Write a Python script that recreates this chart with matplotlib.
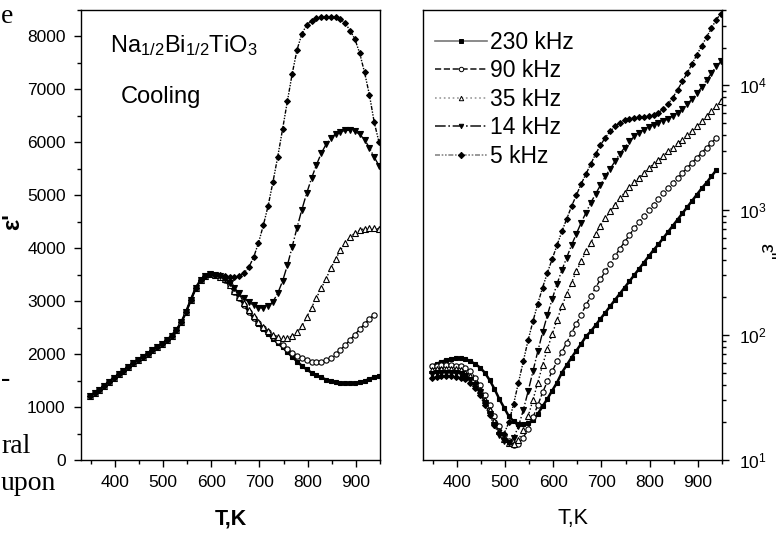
import matplotlib
matplotlib.use("Agg")
import matplotlib.pyplot as plt
import numpy as np
from matplotlib.lines import Line2D
from matplotlib.ticker import MultipleLocator

nan = np.nan

# temperature grid, K
T_K = [348, 358, 368, 378, 388, 398, 408, 418, 428, 438,
       448, 458, 468, 478, 488, 498, 508, 518, 528, 538,
       548, 558, 568, 578, 588, 598, 608, 618, 628, 638,
       648, 658, 668, 678, 688, 698, 708, 718, 728, 738,
       748, 758, 768, 778, 788, 798, 808, 818, 828, 838,
       848, 858, 868, 878, 888, 898, 908, 918, 928, 938, 948]

# eps' below ~610 K: all frequencies coincide
eps1_common = [1200, 1260, 1330, 1400, 1480, 1550, 1620, 1690, 1760, 1830,
               1890, 1950, 2010, 2070, 2130, 2200, 2260, 2350, 2460, 2600,
               2800, 3030, 3250, 3400, 3480, 3510, 3500]

# eps' above ~610 K, per frequency
eps1_230 = [3450, 3400, 3300, 3180, 3060, 2930, 2800, 2680, 2570, 2470,
            2380, 2290, 2210, 2130, 2040, 1950, 1860, 1780, 1710, 1650,
            1600, 1560, 1520, 1490, 1470, 1455, 1450, 1450, 1455, 1470,
            1495, 1530, 1565, 1590]
eps1_90 = [3450, 3400, 3300, 3180, 3060, 2930, 2800, 2690, 2590, 2500,
           2410, 2330, 2250, 2170, 2100, 2030, 1970, 1920, 1880, 1855,
           1845, 1855, 1880, 1930, 2000, 2080, 2170, 2270, 2370, 2470,
           2570, 2670, 2740, nan]
eps1_35 = [3460, 3410, 3310, 3200, 3080, 2960, 2840, 2720, 2610, 2510,
           2430, 2370, 2330, 2310, 2310, 2340, 2410, 2530, 2700, 2880,
           3060, 3240, 3420, 3620, 3800, 3960, 4100, 4210, 4290, 4340,
           4370, 4380, 4375, 4360]
eps1_14 = [3480, 3420, 3340, 3250, 3150, 3060, 2980, 2920, 2880, 2870,
           2900, 2990, 3150, 3380, 3680, 4030, 4390, 4730, 5040, 5320,
           5570, 5790, 5960, 6080, 6160, 6200, 6225, 6230, 6210, 6150,
           6050, 5900, 5720, 5560]
eps1_5 = [3490, 3470, 3455, 3450, 3470, 3530, 3640, 3830, 4100, 4430,
          4800, 5250, 5730, 6250, 6780, 7300, 7750, 8050, 8220, 8300,
          8340, 8360, 8370, 8375, 8370, 8330, 8250, 8110, 7950, 7680,
          7320, 6900, 6380, 6000]

# eps'' (log scale), per frequency
eps2_230 = [56.2, 58.9, 61.0, 63.1, 64.6, 65.3, 65.3, 64.6, 61.7, 58.9,
            55.0, 50.1, 43.7, 37.2, 30.9, 26.3, 22.4, 20.4, 19.5, 19.3,
            19.7, 20.9, 23.4, 26.9, 30.9, 36.0, 41.7, 50.1, 57.5, 66.1,
            75.0, 85.1, 97.7, 107, 120, 135, 151, 170, 191, 214,
            240, 269, 302, 339, 380, 427, 479, 531, 596, 668,
            750, 841, 944, 1059, 1189, 1334, 1496, 1660, 1862, 2089, nan]
eps2_90 = [56.2, 56.9, 57.5, 57.5, 57.5, 56.9, 56.2, 55.0, 51.3, 45.7,
           39.8, 33.1, 27.5, 22.4, 18.6, 15.8, 14.1, 13.2, 13.5, 15.1,
           17.8, 21.9, 27.5, 34.7, 42.7, 51.3, 61.7, 73.3, 87.1, 104,
           123, 146, 174, 204, 240, 279, 324, 372, 427, 490,
           556, 631, 716, 804, 902, 1000, 1109, 1230, 1365, 1514,
           1660, 1820, 1995, 2188, 2399, 2630, 2884, 3162, 3467, 3758, nan]
eps2_35 = [52.5, 53.1, 53.7, 53.7, 53.7, 53.1, 52.5, 50.1, 46.8, 41.7,
           36.3, 30.2, 25.1, 20.4, 17.0, 14.8, 13.6, 13.5, 14.5, 17.4,
           22.4, 30.2, 41.7, 57.5, 77.6, 102, 132, 170, 214, 263,
           324, 389, 468, 550, 646, 750, 861, 977, 1109, 1245,
           1380, 1531, 1679, 1820, 1995, 2163, 2344, 2512, 2723, 2951,
           3162, 3428, 3673, 3981, 4315, 4677, 5129, 5623, 6166, 6761, 7413]
eps2_14 = [49.0, 49.5, 50.1, 50.1, 50.1, 49.5, 49.0, 46.8, 43.7, 39.8,
           34.7, 28.8, 23.4, 19.1, 15.8, 14.1, 13.8, 15.1, 18.6, 25.1,
           35.5, 51.3, 74.1, 105, 145, 195, 257, 331, 417, 525,
           646, 794, 955, 1148, 1349, 1585, 1862, 2138, 2455, 2818,
           3162, 3548, 3890, 4169, 4416, 4624, 4786, 4955, 5129, 5370,
           5689, 6026, 6457, 7079, 7762, 8610, 9661, 10965, 12445, 14125, 15488]
eps2_5 = [45.7, 46.2, 46.8, 46.8, 46.8, 46.2, 45.7, 44.7, 41.7, 38.0,
          33.1, 27.5, 22.9, 19.1, 16.6, 16.2, 20.0, 28.2, 41.7, 61.7,
          91.2, 129, 178, 240, 316, 407, 525, 676, 851, 1072,
          1318, 1622, 1950, 2344, 2818, 3311, 3802, 4266, 4677, 5012,
          5248, 5370, 5450, 5520, 5590, 5660, 5800, 6026, 6457, 7079,
          7943, 9226, 10715, 12589, 14791, 17579, 20654, 24266, 28510, 33497, 37500]

LABELS = ["230 kHz", "90 kHz", "35 kHz", "14 kHz", "5 kHz"]
EPS1_TAILS = [eps1_230, eps1_90, eps1_35, eps1_14, eps1_5]
EPS2 = [eps2_230, eps2_90, eps2_35, eps2_14, eps2_5]

# styles: linestyle, data line width, marker, marker size, filled?
STYLES = [("-", 1.8, "s", 3.4, True),
          ("--", 1.0, "o", 3.8, False),
          (":", 1.0, "^", 4.0, False),
          ("-.", 1.0, "v", 3.8, True),
          ((0, (3, 1, 1, 1, 1, 1)), 1.0, "D", 3.0, True)]
LEGEND_LINE_COLORS = ["#777777", "#222222", "#999999", "#222222", "#888888"]

plt.rcParams["font.family"] = ["Liberation Sans", "DejaVu Sans"]
plt.rcParams["mathtext.default"] = "regular"


def style_axis(ax):
    for sp in ax.spines.values():
        sp.set_linewidth(1.0)
    ax.tick_params(which="major", direction="out", length=5, width=1.0,
                   labelsize=12.5, pad=6)
    ax.tick_params(which="minor", direction="out", length=3, width=1.0)
    ax.xaxis.set_major_locator(MultipleLocator(100))
    ax.xaxis.set_minor_locator(MultipleLocator(50))
    ax.set_xlim(330, 950)


fig = plt.figure(figsize=(7.8, 5.33), dpi=100)
ax1 = fig.add_axes([81 / 780, 73 / 533, 299 / 780, 450 / 533])
ax2 = fig.add_axes([423 / 780, 73 / 533, 299 / 780, 450 / 533])

handles = []
for label, tail, eps2, st, lc in zip(LABELS, EPS1_TAILS, EPS2, STYLES, LEGEND_LINE_COLORS):
    ls, lw, mk, ms, filled = st
    face = "black" if filled else "white"
    kw = dict(color="black", linestyle=ls, linewidth=lw, marker=mk,
              markersize=ms, markeredgecolor="black", markeredgewidth=0.8,
              markerfacecolor=face)
    ax1.plot(T_K, eps1_common + tail, **kw)
    ax2.plot(T_K, eps2, **kw)
    handles.append(Line2D([], [], color=lc, linestyle=ls, linewidth=1.2,
                          marker=mk, markersize=3.2, markeredgecolor="black",
                          markeredgewidth=0.7, markerfacecolor=face, label=label))

# left panel: eps'
style_axis(ax1)
ax1.set_ylim(0, 8500)
ax1.yaxis.set_major_locator(MultipleLocator(1000))
ax1.yaxis.set_minor_locator(MultipleLocator(500))
ax1.tick_params(which="both", top=False, right=False)
ax1.set_xlabel("T,K", fontsize=15.5, fontweight="bold", labelpad=13)
ax1.text(0.097, 0.907, r"Na$_{1/2}$Bi$_{1/2}$TiO$_3$", transform=ax1.transAxes,
         fontsize=17, va="baseline")
ax1.text(0.134, 0.793, "Cooling", transform=ax1.transAxes,
         fontsize=17, va="baseline")

# right panel: eps''
style_axis(ax2)
ax2.set_yscale("log")
ax2.set_ylim(10, 40000)
ax2.yaxis.tick_right()
ax2.tick_params(which="both", left=False, right=True, top=False,
                labelleft=False, labelright=True)
ax2.tick_params(axis="y", labelsize=12.5, pad=7)
ax2.set_xlabel("T,K", fontsize=15.5, labelpad=13)
ax2.legend(handles=handles, loc="upper left", bbox_to_anchor=(-0.03, 1.0),
           frameon=False, fontsize=16.5, handlelength=2.3, handletextpad=0.1,
           labelspacing=0.24, borderaxespad=0.5, numpoints=1)

# axis titles
fig.text(13 / 780, 1 - 222 / 533, "ε'", rotation=90, fontsize=17,
         fontweight="bold", ha="center", va="center")
fig.text(766 / 780, 1 - 252 / 533, "ε''", rotation=-90, fontsize=15,
         ha="center", va="center")

# fragments of the surrounding page text
serif = ["Liberation Serif", "DejaVu Serif"]
fig.text(1 / 780, 1 - 23 / 533, "e", fontsize=20, family=serif, va="baseline")
fig.text(1 / 780, 1 - 386 / 533, "-", fontsize=20, family=serif, va="baseline")
fig.text(1 / 780, 1 - 453 / 533, "ral", fontsize=20, family=serif, va="baseline")
fig.text(1 / 780, 1 - 490 / 533, "upon", fontsize=20, family=serif, va="baseline")

fig.savefig("out.png", dpi=100)
plt.close(fig)
